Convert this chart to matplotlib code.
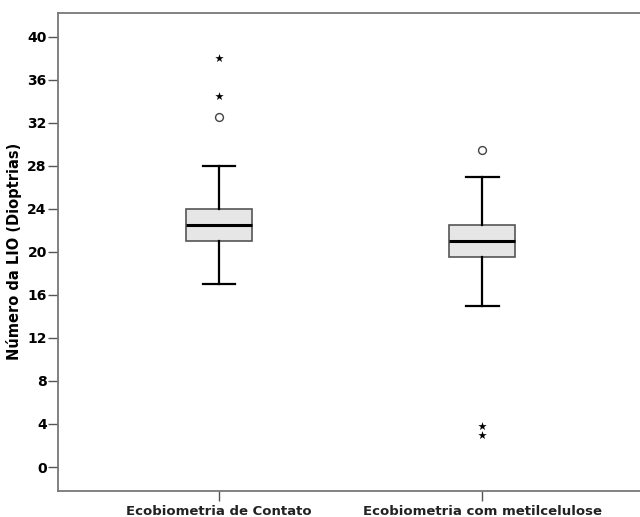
import matplotlib.pyplot as plt

# Lens power (diopters) for the two biometry methods
groups = ["Ecobiometria de Contato", "Ecobiometria com metilcelulose"]
whisker_low = [17.0, 15.0]
q1 = [21.0, 19.5]
median = [22.5, 21.0]
q3 = [24.0, 22.5]
whisker_high = [28.0, 27.0]
# outliers: circles = mild, stars = extreme
mild_outliers = [[32.5], [29.5]]
extreme_outliers = [[34.5, 38.0], [3.0, 3.8]]

stats = []
for i, name in enumerate(groups):
    stats.append(dict(label=name, whislo=whisker_low[i], q1=q1[i], med=median[i],
                      q3=q3[i], whishi=whisker_high[i], fliers=[]))

fig = plt.figure(figsize=(6.4, 5.17), dpi=100)
ax = fig.add_axes([0.0906, 0.0509, 0.9094, 0.924])

ax.bxp(stats, positions=[1, 2], widths=0.25, patch_artist=True, showfliers=False,
       boxprops=dict(facecolor='#e6e6e6', edgecolor='#555555', linewidth=1.2),
       medianprops=dict(color='black', linewidth=2.2),
       whiskerprops=dict(color='black', linewidth=1.6),
       capprops=dict(color='black', linewidth=1.6), capwidths=0.125)

for i in range(len(groups)):
    ax.scatter([i + 1] * len(mild_outliers[i]), mild_outliers[i], marker='o', s=32,
               facecolors='white', edgecolors='#444444', linewidths=1.0, zorder=3)
    ax.scatter([i + 1] * len(extreme_outliers[i]), extreme_outliers[i], marker='*', s=40,
               color='black', linewidths=0, zorder=3)

ax.set_xlim(0.388, 2.6)
ax.set_ylim(-2.2, 42.2)
ax.set_yticks(range(0, 41, 4))
ax.set_xticks([1, 2])
ax.set_xticklabels(groups, fontsize=9.5, fontweight='bold', color='#222222')
ax.tick_params(axis='y', labelsize=10, direction='out', length=7, width=1, pad=1,
               colors='#555555', labelcolor='black')
ax.tick_params(axis='x', direction='out', length=7, width=1, pad=3,
               colors='#555555', labelcolor='#222222')
for lbl in ax.get_yticklabels():
    lbl.set_fontweight('bold')
ax.set_ylabel('Número da LIO (Dioptrias)', fontsize=10.5, fontweight='bold', labelpad=4)

for side in ['left', 'bottom', 'top']:
    ax.spines[side].set_color('#777777')
    ax.spines[side].set_linewidth(1.3)
ax.spines['right'].set_visible(False)

fig.savefig('out.png', dpi=100)
